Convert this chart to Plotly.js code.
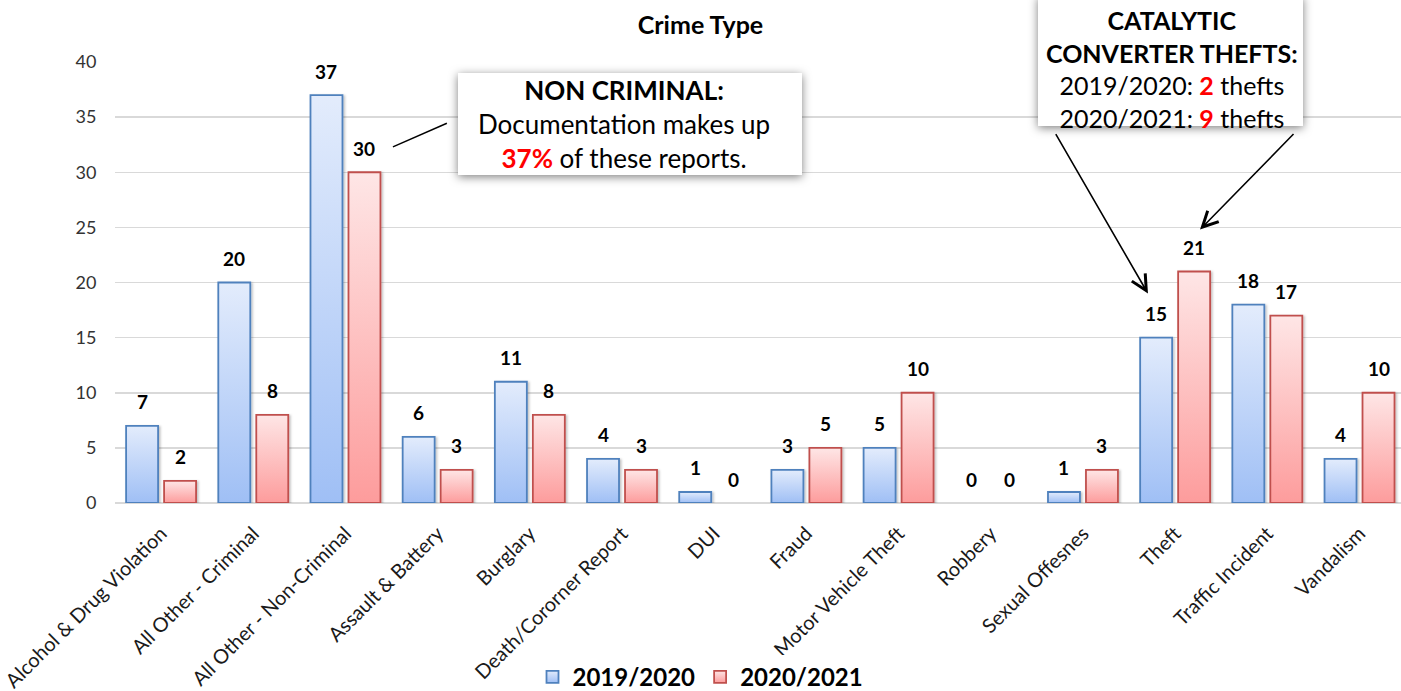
<!DOCTYPE html>
<html>
<head>
<meta charset="utf-8">
<script src="https://cdn.plot.ly/plotly-3.0.1.min.js"></script>
<style>
html,body{margin:0;padding:0;background:#fff;}
#chart{width:1401px;height:691px;}
</style>
</head>
<body>
<svg width="0" height="0" style="position:absolute">
  <defs>
    <linearGradient id="grad0" x1="0" y1="0" x2="0" y2="1">
      <stop offset="0" stop-color="#e3ecfc"/>
      <stop offset="1" stop-color="#9fbff5"/>
    </linearGradient>
    <linearGradient id="grad1" x1="0" y1="0" x2="0" y2="1">
      <stop offset="0" stop-color="#fee6e6"/>
      <stop offset="1" stop-color="#fd9c9c"/>
    </linearGradient>
    <filter id="boxShadow" x="-20%" y="-30%" width="140%" height="160%">
      <feDropShadow dx="0" dy="2" stdDeviation="5" flood-color="#000" flood-opacity="0.5"/>
    </filter>
    <filter id="barShadow" x="-30%" y="-10%" width="160%" height="120%">
      <feDropShadow dx="1.5" dy="1" stdDeviation="1.2" flood-color="#000" flood-opacity="0.25"/>
    </filter>
  </defs>
</svg>
<div id="chart"></div>
<script>
const categories = ['Alcohol & Drug Violation','All Other - Criminal','All Other - Non-Criminal','Assault & Battery','Burglary','Death/Cororner Report','DUI','Fraud','Motor Vehicle Theft','Robbery','Sexual Offesnes','Theft','Traffic Incident','Vandalism'];
const seriesNames = ['2019/2020','2020/2021'];
const values2019 = [7,20,37,6,11,4,1,3,5,0,1,15,18,4];
const values2020 = [2,8,30,3,8,3,0,5,10,0,3,21,17,10];
const yTicks = [0,5,10,15,20,25,30,35,40];

const FONT = 'Lato, "Open Sans", sans-serif';
const lineColors = ['#4f81bd','#c0504d'];
const fillColors = ['#c3d6f8','#feb8b8'];

const traces = [values2019, values2020].map((vals,i)=>({
  type:'bar',
  name: seriesNames[i],
  x: categories,
  y: vals,
  marker:{color:fillColors[i], line:{color:lineColors[i], width:1.8}},
  hoverinfo:'x+y'
}));

// value labels above the bars
const labelAnnotations = [];
[values2019, values2020].forEach((vals,i)=>{
  vals.forEach((v,j)=>{
    labelAnnotations.push({
      x: categories[j], y: v, xref:'x', yref:'y',
      text: '<b>'+v+'</b>', showarrow:false,
      xshift: i===0 ? -19 : 19, yshift: 24,
      font:{family:FONT, size:19, color:'#000'}
    });
  });
});

// pixel -> paper helpers for callout placement
const px = v => (v-115)/1286;
const py = v => (503-v)/441;

const boxAnnotations = [
  {
    xref:'paper', yref:'paper', x:px(624), y:py(124),
    xanchor:'center', yanchor:'middle', showarrow:false,
    text:'<b>NON CRIMINAL:</b><br>Documentation makes up<br><b><span style="color:#ff0000">37%</span></b> of these reports.',
    font:{family:FONT, size:26, color:'#000'}
  },
  {
    xref:'paper', yref:'paper', x:px(1172), y:py(69),
    xanchor:'center', yanchor:'middle', showarrow:false,
    text:'<b>CATALYTIC</b><br><b>CONVERTER THEFTS:</b><br>2019/2020: <b><span style="color:#ff0000">2</span></b> thefts<br>2020/2021: <b><span style="color:#ff0000">9</span></b> thefts',
    font:{family:FONT, size:25, color:'#000'}
  },
  {
    xref:'x', yref:'y', x:10.705, y:19.0, axref:'x', ayref:'y', ax:9.696, ay:33.6,
    text:'', showarrow:true, arrowhead:5, arrowsize:1.9, arrowwidth:1.6, arrowcolor:'#000', standoff:0, startstandoff:0
  },
  {
    xref:'x', yref:'y', x:11.27, y:24.8, axref:'x', ayref:'y', ax:12.3, ay:33.6,
    text:'', showarrow:true, arrowhead:5, arrowsize:1.9, arrowwidth:1.6, arrowcolor:'#000', standoff:0, startstandoff:0
  }
];

const layout = {
  width:1401, height:691,
  margin:{l:115, r:0, t:62, b:188, autoexpand:false},
  paper_bgcolor:'#ffffff', plot_bgcolor:'#ffffff',
  font:{family:FONT, color:'#222'},
  title:{text:'<b>Crime Type</b>', x:0.5, xref:'container', y:0.9638, yref:'container', yanchor:'middle',
         font:{family:FONT, size:25, color:'#000'}},
  barmode:'group', bargap:0.176, bargroupgap:0.158,
  xaxis:{
    type:'category', range:[-0.5,13.45], tickangle:-45, automargin:false,
    tickfont:{family:FONT, size:20, color:'#1a1a1a'},
    showgrid:false, zeroline:false, showline:false,
    ticks:'outside', ticklen:10, tickcolor:'rgba(0,0,0,0)', fixedrange:true
  },
  yaxis:{
    range:[0,40], tickvals:yTicks, ticktext:yTicks.map(String), automargin:false,
    tickfont:{family:FONT, size:18, color:'#333'},
    showgrid:true, gridcolor:'#d9d9d9', gridwidth:1.5,
    zeroline:true, zerolinecolor:'#d9d9d9', zerolinewidth:1.5,
    ticks:'outside', ticklen:14, tickcolor:'rgba(0,0,0,0)', showline:false, fixedrange:true
  },
  legend:{
    orientation:'h', xref:'container', yref:'container', x:0.5, xanchor:'center', y:0.02, yanchor:'middle',
    font:{family:FONT, size:24, color:'#000', weight:'bold'}, itemwidth:30, traceorder:'normal'
  },
  shapes:[
    {type:'rect', xref:'paper', yref:'paper', x0:px(458), x1:px(802), y0:py(175), y1:py(73),
     fillcolor:'#ffffff', line:{width:0}, layer:'above'},
    {type:'rect', xref:'paper', yref:'paper', x0:px(1038), x1:px(1303), y0:py(126), y1:py(-4),
     fillcolor:'#ffffff', line:{width:0}, layer:'above'},
    {type:'line', xref:'x', yref:'y', x0:2.515, y0:32.3, x1:3.1, y1:34.45, line:{color:'#000', width:1.5}}
  ],
  annotations: labelAnnotations.concat(boxAnnotations),
  showlegend:true
};

Plotly.newPlot('chart', traces, layout, {displayModeBar:false, staticPlot:true}).then(()=>{
  document.querySelectorAll('.barlayer .trace').forEach((g,i)=>{
    g.querySelectorAll('path').forEach(p=>{
      p.style.fill = 'url(#grad'+i+')';
      p.setAttribute('filter','url(#barShadow)');
    });
  });
  document.querySelectorAll('.legend .traces').forEach((g,i)=>{
    g.querySelectorAll('.legendpoints path').forEach(p=>{ p.style.fill='url(#grad'+i+')'; });
  });
  document.querySelectorAll('.shapelayer path').forEach(p=>{
    const idx = p.getAttribute('data-index');
    if (idx === '0' || idx === '1') p.setAttribute('filter','url(#boxShadow)');
  });
});
</script>
</body>
</html>
